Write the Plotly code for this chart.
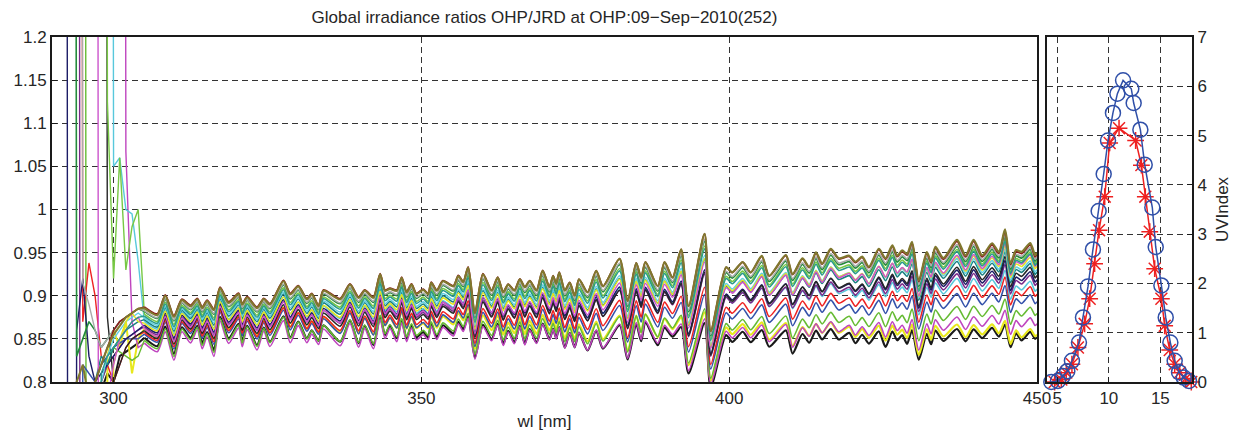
import plotly.graph_objects as go

TITLE = "Global irradiance ratios OHP/JRD at OHP:09\u2212Sep\u22122010(252)"

# ---- main panel: upper-envelope and lower-envelope ratio profiles
PROF_WL = [305.0, 307.1, 308.4, 309.8, 311.1, 312.5, 313.6, 314.4, 315.2, 316.3,
           317.3, 318.7, 320.3, 320.9, 321.7, 323.3, 324.4, 325.4, 327.6, 328.7,
           330.0, 331.4, 332.2, 333.3, 334.1, 336.8, 338.4, 339.8, 340.8, 342.2,
           343.3, 344.1, 344.9, 346.0, 346.8, 347.6, 348.4, 349.2, 350.3, 351.1,
           351.6, 352.5, 353.5, 355.2, 356.0, 356.8, 357.6, 358.7, 360.0, 361.4,
           362.4, 363.3, 364.1, 365.1, 366.0, 366.8, 367.6, 368.7, 369.7, 370.8,
           371.4, 371.9, 372.4, 373.3, 374.1, 374.9, 375.6, 377.0, 378.4, 379.5,
           382.2, 383.5, 384.9, 385.7, 386.4, 388.4, 389.5, 390.8, 392.2, 393.4,
           396.0, 397.0, 399.5, 400.5, 402.2, 403.5, 405.3, 406.5, 409.2, 410.3,
           411.9, 413.0, 414.1, 415.1, 416.5, 417.8, 419.5, 420.5, 421.6, 422.7,
           424.3, 425.4, 426.5, 427.3, 428.1, 428.9, 429.7, 430.8, 432.1, 432.8,
           433.5, 434.8, 437.0, 438.4, 439.7, 441.1, 442.7, 443.8, 444.8, 445.7,
           446.6, 447.5, 448.9, 449.7, 450.0]
TOP = [0.887, 0.879, 0.901, 0.877, 0.896, 0.889, 0.897, 0.887, 0.895, 0.885,
       0.910, 0.893, 0.903, 0.891, 0.899, 0.887, 0.897, 0.891, 0.918, 0.903,
       0.912, 0.897, 0.903, 0.889, 0.907, 0.897, 0.914, 0.899, 0.907, 0.899,
       0.926, 0.907, 0.909, 0.907, 0.922, 0.905, 0.914, 0.903, 0.908, 0.903,
       0.916, 0.907, 0.918, 0.912, 0.924, 0.917, 0.934, 0.881, 0.926, 0.907,
       0.922, 0.905, 0.914, 0.907, 0.920, 0.911, 0.918, 0.907, 0.930, 0.911,
       0.924, 0.915, 0.928, 0.907, 0.916, 0.901, 0.920, 0.905, 0.930, 0.912,
       0.944, 0.895, 0.939, 0.922, 0.940, 0.912, 0.940, 0.922, 0.955, 0.889,
       0.973, 0.860, 0.934, 0.928, 0.940, 0.928, 0.947, 0.924, 0.948, 0.926,
       0.944, 0.934, 0.951, 0.938, 0.955, 0.944, 0.947, 0.940, 0.946, 0.934,
       0.955, 0.944, 0.959, 0.947, 0.953, 0.949, 0.963, 0.918, 0.951, 0.940,
       0.957, 0.944, 0.965, 0.947, 0.965, 0.947, 0.961, 0.951, 0.977, 0.938,
       0.953, 0.951, 0.961, 0.947, 0.950]
BOT = [0.845, 0.835, 0.858, 0.825, 0.858, 0.845, 0.860, 0.838, 0.852, 0.829,
       0.870, 0.844, 0.862, 0.840, 0.860, 0.836, 0.858, 0.840, 0.870, 0.844,
       0.864, 0.844, 0.854, 0.842, 0.860, 0.840, 0.866, 0.838, 0.860, 0.836,
       0.870, 0.848, 0.860, 0.844, 0.866, 0.844, 0.860, 0.846, 0.852, 0.846,
       0.862, 0.846, 0.860, 0.850, 0.864, 0.855, 0.870, 0.823, 0.860, 0.844,
       0.862, 0.838, 0.854, 0.840, 0.860, 0.838, 0.856, 0.840, 0.862, 0.844,
       0.856, 0.845, 0.858, 0.834, 0.852, 0.835, 0.852, 0.831, 0.854, 0.833,
       0.860, 0.821, 0.862, 0.842, 0.864, 0.838, 0.858, 0.848, 0.858, 0.805,
       0.862, 0.790, 0.850, 0.842, 0.854, 0.842, 0.856, 0.837, 0.856, 0.829,
       0.852, 0.842, 0.856, 0.846, 0.858, 0.846, 0.854, 0.842, 0.852, 0.842,
       0.856, 0.838, 0.856, 0.846, 0.852, 0.842, 0.858, 0.824, 0.854, 0.842,
       0.858, 0.846, 0.860, 0.846, 0.860, 0.850, 0.862, 0.852, 0.866, 0.840,
       0.856, 0.848, 0.858, 0.850, 0.852]

# ---- per-series: colour, position between envelopes at 305 nm and 450 nm
COLORS = ["#1a1a1a", "#e8e81c", "#bf45bf", "#66bb33", "#3452aa",
          "#ee2222", "#58c8dc", "#7a2a8a", "#1c1c66", "#262626",
          "#1a8080", "#62d0e2", "#e4e420", "#cc55cc", "#77c844",
          "#238b3b", "#aaaaaa", "#2a9a8a", "#8b1a1a", "#80782e"]
WIDTHS = [2.2, 2.2, 1.6, 1.6, 1.6, 1.6, 1.6, 1.6, 1.6, 1.6,
          1.6, 1.6, 1.6, 1.6, 1.6, 1.8, 1.6, 1.6, 1.8, 2.2]
FRAC_L = [0.85, 0.60, 1.00, 0.92, 0.75, 0.70, 0.40, 0.55, 0.50, 0.65,
          0.35, 0.30, 0.45, 0.60, 0.20, 0.12, 0.10, 0.25, 0.00, 0.03]
FRAC_R = [1.00, 0.97, 0.84, 0.72, 0.58, 0.49, 0.43, 0.36, 0.32, 0.27,
          0.23, 0.20, 0.16, 0.13, 0.10, 0.07, 0.05, 0.12, 0.02, 0.00]

# ---- noisy short-wavelength part, 290..304 nm (off-scale values estimated)
LEFT_WL = [290, 291, 292, 293, 294, 295, 296, 297, 298, 299, 300, 301, 302, 303, 304]
LEFT_VALUES = [
    [-4, -4, -4, -4, -4, -4, -4, -4, 0.79, 0.81, 0.80, 0.83, 0.835, 0.84, 0.845],
    [-4, -4, -4, -4, -4, -4, -4, -4, -4, 0.83, 0.86, 0.84, 0.87, 0.81, 0.85],
    [6, 6, 6, 6, 6, 6, 6, 6, 6, 6, 6, 6, 1.067, 0.87, 0.84],
    [6, 6, 6, 6, 6, 6, -4, -4, 0.80, 0.82, 0.84, 0.835, 0.83, 0.825, 0.83],
    [-4, -4, -4, -4, -4, 0.82, 0.81, 0.80, 0.82, 0.83, 0.84, 0.845, 0.85, 0.85, 0.85],
    [6, 6, 6, 6, 6, 0.87, 0.938, 0.90, 0.83, 0.82, 0.80, 0.82, 0.84, 0.85, 0.855],
    [6, 6, 6, 6, 6, 6, 6, 6, 6, 6, 1.05, 1.06, 1.0, 0.995, 0.94],
    [6, 6, 6, 6, 6, -4, 0.79, 0.78, 0.80, 0.82, 0.83, 0.84, 0.85, 0.855, 0.86],
    [6, 6, 6, -4, 0.86, 0.92, 0.83, 0.80, 0.81, 0.82, 0.83, 0.84, 0.85, 0.855, 0.86],
    [6, 6, 6, 6, 6, 6, 6, 6, 6, 0.875, 0.80, 0.82, 0.84, 0.85, 0.855],
    [-4, -4, -4, -4, -4, -4, -4, 0.80, 0.83, 0.82, 0.84, 0.85, 0.86, 0.865, 0.87],
    [-4, -4, -4, -4, -4, -4, -4, -4, 0.80, 0.83, 0.85, 0.86, 0.87, 0.875, 0.88],
    [-4, -4, -4, -4, -4, -4, -4, -4, -4, -4, 0.82, 0.85, 0.87, 0.88, 0.87],
    [6, 6, 6, 6, 6, 6, 6, 6, -4, 0.78, 0.82, 0.85, 0.86, 0.87, 0.875],
    [6, 6, 6, 6, 6, 6, 6, 6, 6, 1.125, 0.92, 1.06, 0.93, 0.98, 1.0],
    [6, 6, 6, 6, 0.83, 0.85, 0.87, 0.86, 0.84, 0.85, 0.86, 0.87, 0.875, 0.88, 0.885],
    [6, 6, 6, 6, 6, 0.915, 0.89, 0.86, 0.84, 0.85, 0.86, 0.87, 0.875, 0.88, 0.885],
    [-4, -4, -4, -4, -4, -4, -4, -4, 0.81, 0.83, 0.84, 0.85, 0.86, 0.87, 0.875],
    [-4, -4, -4, -4, -4, -4, 0.78, 0.80, 0.82, 0.84, 0.86, 0.87, 0.875, 0.88, 0.885],
    [-4, -4, -4, -4, 0.80, 0.82, 0.78, 0.80, 0.82, 0.84, 0.855, 0.865, 0.875, 0.88, 0.885],
]

# ---- right panel: UV index vs hour
CIRCLE_H = [4.42, 5.06, 5.55, 5.97, 6.42, 7.10, 7.49, 7.98, 8.46, 9.01, 9.50, 9.92, 10.40, 10.83,
            11.38, 12.18, 12.41, 13.06, 13.48, 14.22, 14.55, 15.10, 15.52, 15.97, 16.39, 16.81,
            17.27, 17.78]
CIRCLE_UV = [0.00, 0.02, 0.12, 0.22, 0.43, 0.80, 1.31, 1.94, 2.69, 3.47, 4.22, 4.90, 5.46, 5.85,
             6.12, 5.95, 5.66, 5.12, 4.41, 3.54, 2.74, 1.96, 1.31, 0.80, 0.43, 0.20, 0.09, 0.02]
STAR_H = [4.74, 5.39, 5.87, 6.42, 7.00, 7.65, 8.14, 8.62, 9.05, 9.60, 10.08, 10.99, 12.60, 13.16,
          13.54, 13.97, 14.45, 15.10, 15.42, 15.91, 16.39, 16.88, 17.46, 18.00]
STAR_UV = [0.00, 0.05, 0.19, 0.36, 0.70, 1.18, 1.69, 2.40, 3.08, 3.76, 4.85, 5.15, 4.90, 4.40,
           3.76, 3.05, 2.30, 1.69, 1.14, 0.65, 0.36, 0.19, 0.07, 0.00]

Y_TICKS = [0.8, 0.85, 0.9, 0.95, 1.0, 1.05, 1.1, 1.15, 1.2]
Y_LABELS = ["0.8", "0.85", "0.9", "0.95", "1", "1.05", "1.1", "1.15", "1.2"]
X_TICKS = [300, 350, 400, 450]
H_TICKS = [5, 10, 15]
UV_TICKS = [0, 1, 2, 3, 4, 5, 6, 7]

W, H = 1245, 435
FONT = "Liberation Sans, Arial, Helvetica, sans-serif"
TXT = "#262626"

fig = go.Figure()

span = PROF_WL[-1] - PROF_WL[0]
for i, col in enumerate(COLORS):
    main_y = []
    for k, wl in enumerate(PROF_WL):
        f = FRAC_L[i] + (FRAC_R[i] - FRAC_L[i]) * (wl - PROF_WL[0]) / span
        main_y.append(TOP[k] + f * (BOT[k] - TOP[k]))
    # noisy UV-B end, straight segments
    fig.add_trace(go.Scatter(x=LEFT_WL + PROF_WL[:1], y=list(LEFT_VALUES[i]) + main_y[:1],
                             mode="lines", line=dict(color=col, width=WIDTHS[i] - 0.2),
                             showlegend=False, hoverinfo="skip", xaxis="x", yaxis="y"))
    # smooth part
    fig.add_trace(go.Scatter(x=PROF_WL, y=main_y, mode="lines",
                             line=dict(color=col, width=WIDTHS[i], shape="spline", smoothing=0.7),
                             showlegend=False, hoverinfo="skip", xaxis="x", yaxis="y"))

fig.add_trace(go.Scatter(x=STAR_H, y=STAR_UV, mode="lines+markers",
                         line=dict(color="#ee2020", width=1.5),
                         marker=dict(symbol="asterisk-open", size=14,
                                     line=dict(color="#ee2020", width=1.5)),
                         showlegend=False, xaxis="x2", yaxis="y2", cliponaxis=False))
fig.add_trace(go.Scatter(x=CIRCLE_H, y=CIRCLE_UV, mode="lines+markers",
                         line=dict(color="#2f4fa8", width=1.5),
                         marker=dict(symbol="circle-open", size=15,
                                     line=dict(color="#2f4fa8", width=1.5)),
                         showlegend=False, xaxis="x2", yaxis="y2", cliponaxis=False))

x0, x1 = 52 / W, 1037 / W
x2a, x2b = 1047 / W, 1192 / W
y0, y1 = (H - 382) / H, (H - 37) / H

common = dict(showgrid=True, gridcolor="#333333", griddash="6px,4px", gridwidth=1,
              showline=True, linecolor="#1a1a1a", linewidth=2, mirror=True,
              ticks="inside", ticklen=5, tickcolor="#1a1a1a", zeroline=False,
              automargin=False,
              tickfont=dict(family=FONT, size=17, color=TXT))

fig.update_layout(
    width=W, height=H,
    margin=dict(l=0, r=0, t=0, b=0, autoexpand=False),
    paper_bgcolor="white", plot_bgcolor="white",
    font=dict(family=FONT, size=17, color=TXT),
    title=dict(text=TITLE, x=544.5 / W, xanchor="center", y=1 - 17 / H, yanchor="middle",
               font=dict(family=FONT, size=17, color=TXT)),
    xaxis=dict(domain=[x0, x1], range=[290, 450], tickvals=X_TICKS, anchor="y",
               title=dict(text="wl [nm]", standoff=8, font=dict(family=FONT, size=17, color=TXT)),
               **common),
    yaxis=dict(domain=[y0, y1], range=[0.8, 1.2], tickvals=Y_TICKS, ticktext=Y_LABELS,
               anchor="x", **common),
    xaxis2=dict(domain=[x2a, x2b], range=[4, 18.07], tickvals=H_TICKS, anchor="y2", **common),
    yaxis2=dict(domain=[y0, y1], range=[0, 7], tickvals=UV_TICKS, anchor="x2", side="right",
                title=dict(text="UVIndex", standoff=10, font=dict(family=FONT, size=17, color=TXT)),
                **common),
)

fig.write_html("out.html")
